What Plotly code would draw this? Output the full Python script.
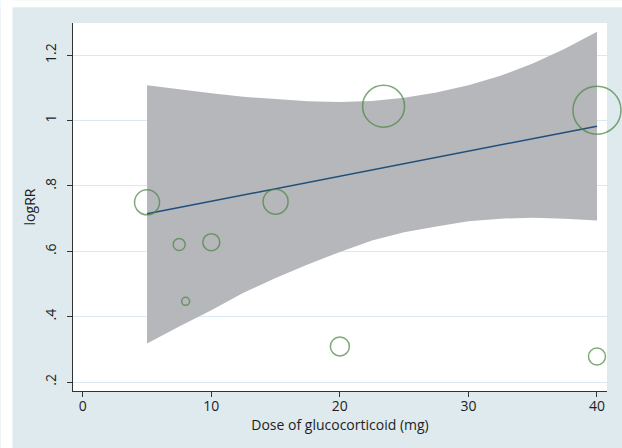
import plotly.graph_objects as go

# Study data (dose in mg, logRR, study weight)
dose = [5, 7.5, 8, 10, 15, 20, 23.4, 40, 40]
log_rr = [0.750, 0.621, 0.447, 0.628, 0.752, 0.309, 1.044, 1.032, 0.278]
weight = [6.25, 1.44, 0.64, 2.89, 6.25, 3.6, 17.6, 23.0, 2.9]

# Fitted line
fit_x = [5, 40]
fit_y = [0.715, 0.983]

# Confidence band
ci_x = [5, 7.5, 10, 12.5, 15, 17.5, 20, 22.5, 25, 27.5, 30, 32.5, 35, 37.5, 40]
ci_upper = [1.108, 1.095, 1.084, 1.073, 1.065, 1.059, 1.057, 1.060, 1.070, 1.086, 1.108, 1.137, 1.175, 1.220, 1.272]
ci_lower = [0.318, 0.370, 0.420, 0.473, 0.518, 0.560, 0.598, 0.633, 0.658, 0.676, 0.692, 0.700, 0.703, 0.700, 0.694]

x_ticks = [0, 10, 20, 30, 40]
y_ticks = [0.2, 0.4, 0.6, 0.8, 1.0, 1.2]
y_tick_text = [".2", ".4", ".6", ".8", "1", "1.2"]

FONT = "Open Sans"
AXIS = "#333333"
TXT = "#1e1e1e"
BG = "#dfeaee"

fig = go.Figure()

fig.add_trace(go.Scatter(
    x=ci_x + ci_x[::-1],
    y=ci_upper + ci_lower[::-1],
    fill="toself",
    fillcolor="#b5b7ba",
    line=dict(width=0),
    mode="lines",
    hoverinfo="skip",
    showlegend=False,
))

fig.add_trace(go.Scatter(
    x=fit_x, y=fit_y, mode="lines",
    line=dict(color="#1f4f7a", width=1.5),
    showlegend=False,
))

fig.add_trace(go.Scatter(
    x=dose, y=log_rr, mode="markers",
    cliponaxis=False,
    marker=dict(
        size=weight, sizemode="area", sizeref=0.02,
        symbol="circle-open",
        color="#4a8440",
        line=dict(width=1.5, color="#4a8440"),
    ),
    showlegend=False,
))

W, H = 622, 448
L, R, T, B = 72.5, W - 606.7, 22.7, H - 390.7
pw, ph = W - L - R, H - T - B

fig.update_layout(
    width=W, height=H,
    margin=dict(l=L, r=R, t=T, b=B, pad=0),
    paper_bgcolor=BG,
    plot_bgcolor="white",
    font=dict(family=FONT, size=14, color=TXT),
    shapes=[
        # white strip on the left edge
        dict(type="rect", xref="paper", yref="paper", layer="above",
             x0=-L / pw, x1=(12 - L) / pw,
             y0=-B / ph, y1=(H - B) / ph,
             fillcolor="white", line=dict(width=0)),
        # white strip on the top edge
        dict(type="rect", xref="paper", yref="paper", layer="above",
             x0=-L / pw, x1=1 + R / pw,
             y0=(H - B - 7) / ph, y1=(H - B) / ph,
             fillcolor="white", line=dict(width=0)),
    ],
    xaxis=dict(
        range=[-0.76, 40.78],
        tickvals=x_ticks,
        showgrid=False, zeroline=False,
        showline=True, linecolor=AXIS, linewidth=1.4,
        ticks="outside", ticklen=5, tickcolor=AXIS, tickwidth=1.3,
        ticklabelstandoff=-3,
        tickfont=dict(size=14, color=TXT),
        title=dict(text="Dose of glucocorticoid (mg)", font=dict(size=14, color=TXT), standoff=2),
    ),
    yaxis=dict(
        range=[0.1725, 1.2987],
        tickvals=y_ticks, ticktext=y_tick_text,
        tickangle=-90,
        showgrid=True, gridcolor="#d9e8f2", gridwidth=1,
        zeroline=False,
        showline=True, linecolor=AXIS, linewidth=1.4,
        ticks="outside", ticklen=5, tickcolor=AXIS, tickwidth=1.3,
        ticklabelstandoff=5,
        tickfont=dict(size=14, color=TXT),
        title=dict(text="logRR", font=dict(size=14, color=TXT), standoff=2),
    ),
)

fig.write_html(
    "out.html",
    config={"displayModeBar": False},
    post_script=(
        "document.body.style.margin='0';"
        "document.body.style.overflow='hidden';"
        "document.documentElement.style.overflow='hidden';"
        "document.documentElement.style.background='" + BG + "';"
        "document.body.style.background='" + BG + "';"
    ),
)
